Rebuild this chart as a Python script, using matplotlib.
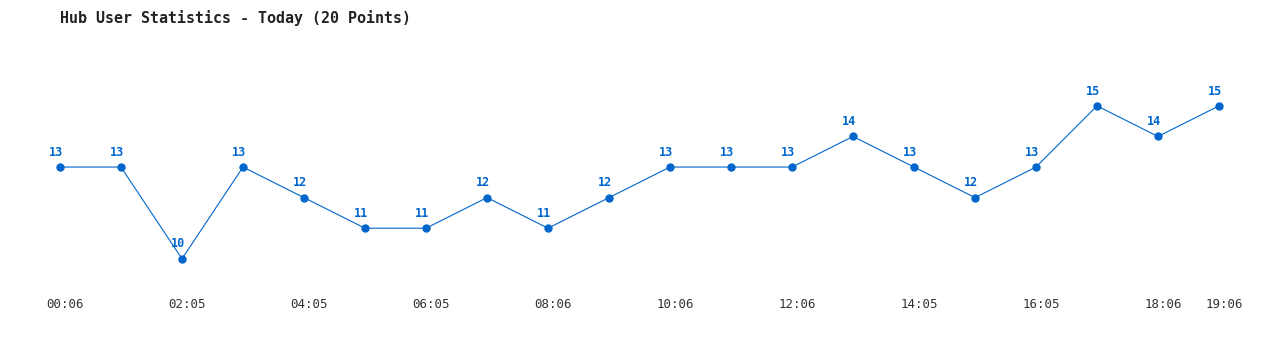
import matplotlib.pyplot as plt
from matplotlib.transforms import ScaledTranslation

# users online per sample
users = [13, 13, 10, 13, 12, 11, 11, 12, 11, 12, 13, 13, 13, 14, 13, 12, 13, 15, 14, 15]
tick_idx = [0, 2, 4, 6, 8, 10, 12, 14, 16, 18, 19]
tick_labels = ["00:06", "02:05", "04:05", "06:05", "08:06", "10:06",
               "12:06", "14:05", "16:05", "18:06", "19:06"]

blue = "#0066cc"

fig = plt.figure(figsize=(12.8, 3.5), dpi=100)
fig.patch.set_facecolor("white")
ax = fig.add_axes([0, 60 / 350, 1, 230 / 350])

xs = list(range(len(users)))
ax.plot(xs, users, color=blue, lw=0.8, marker="o", ms=5, mec=blue, mfc=blue)
for x, v in zip(xs, users):
    ax.annotate(str(v), (x, v), xytext=(-3, 6), textcoords="offset points",
                ha="center", va="bottom", color=blue, fontsize=8.5,
                fontweight="bold", family="DejaVu Sans Mono")

ax.set_xlim(-60 / 61, 20)
ax.set_ylim(8.98, 16.5)
ax.set_yticks([])
ax.set_xticks(tick_idx)
ax.set_xticklabels(tick_labels, family="DejaVu Sans Mono", fontsize=9, color="#333333")
ax.tick_params(axis="x", length=0, pad=6)
shift = ScaledTranslation(5 / 100, 0, fig.dpi_scale_trans)
for lbl in ax.get_xticklabels():
    lbl.set_transform(lbl.get_transform() + shift)
for s in ax.spines.values():
    s.set_visible(False)
ax.set_facecolor("none")

fig.text(60 / 1280, 1 - 18 / 350, "Hub User Statistics - Today (20 Points)",
         ha="left", va="center", family="DejaVu Sans Mono", fontsize=10.8,
         fontweight="bold", color="#222222")

fig.savefig("out.png", dpi=100, facecolor="white")
